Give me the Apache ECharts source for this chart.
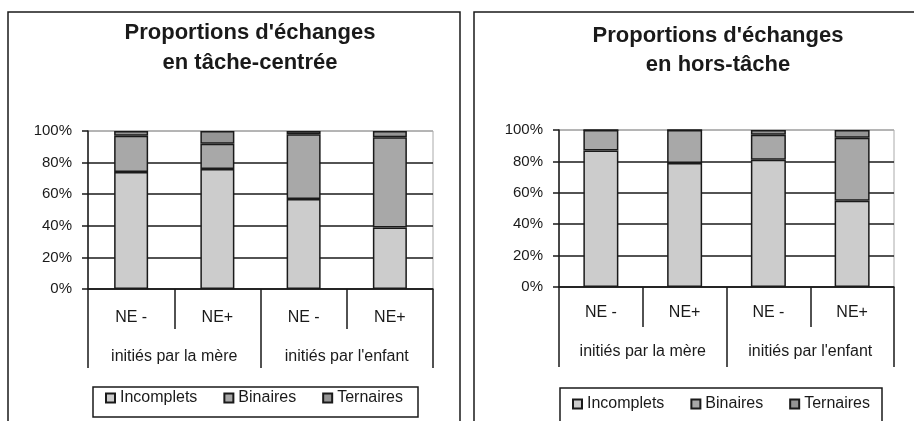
<!DOCTYPE html>
<html>
<head>
<meta charset="utf-8">
<script src="https://cdn.jsdelivr.net/npm/echarts@6/dist/echarts.min.js"></script>
<style>
  html, body { margin: 0; background: #fff; }
  #main { width: 914px; height: 421px; }
</style>
</head>
<body>
<div id="main"></div>
<script>
  const subLabels = ['NE -', 'NE+', 'NE -', 'NE+']
  const groupLabels = ['initiés par la mère', "initiés par l'enfant"]
  const seriesNames = ['Incomplets', 'Binaires', 'Ternaires']
  const titles = ["Proportions d'échanges\nen tâche-centrée", "Proportions d'échanges\nen hors-tâche"]

  // tâche-centrée (%)
  const tacheIncomplets = [74, 76, 57, 39]
  const tacheBinaires = [23, 16, 41, 57]
  const tacheTernaires = [3, 8, 2, 4]
  // hors-tâche (%)
  const horsIncomplets = [87, 79, 81, 55]
  const horsBinaires = [13, 21, 16, 40]
  const horsTernaires = [0, 0, 3, 5]

  const colors = ['#cccccc', '#a8a8a8', '#959595']
  const font = 'Liberation Sans, Arial, sans-serif'
  const ink = '#1a1a1a'

  const chart = echarts.init(document.getElementById('main'))

  function xAxes(gridIndex, labelMargin, groupMargin, shortTick, longTick) {
    return [{
      type: 'category',
      gridIndex: gridIndex,
      position: 'bottom',
      data: subLabels,
      axisLine: { lineStyle: { color: ink, width: 1.5 } },
      axisTick: { show: true, interval: 0, length: shortTick, lineStyle: { color: ink, width: 1.5 } },
      axisLabel: { interval: 0, margin: labelMargin, color: ink, fontSize: 16, fontFamily: font }
    }, {
      type: 'category',
      gridIndex: gridIndex,
      position: 'bottom',
      data: groupLabels,
      axisLine: { show: false },
      axisTick: { show: true, interval: 0, length: longTick, lineStyle: { color: ink, width: 1.5 } },
      axisLabel: { interval: 0, margin: groupMargin, color: ink, fontSize: 16, fontFamily: font }
    }]
  }

  function yAxis(gridIndex) {
    return {
      type: 'value',
      gridIndex: gridIndex,
      min: 0,
      max: 100,
      interval: 20,
      axisLine: { show: true, lineStyle: { color: ink, width: 1.5 } },
      axisTick: { show: true, length: 6, lineStyle: { color: ink, width: 1.5 } },
      axisLabel: { formatter: '{value}%', margin: 16, color: ink, fontSize: 15, fontFamily: font },
      splitLine: { lineStyle: { color: [ink, ink, ink, ink, ink, '#aaaaaa'], width: 1.5 } }
    }
  }

  function bars(stack, xIndex, yIndex, width, values) {
    return values.map(function(v, i) {
      return {
        name: seriesNames[i],
        type: 'bar',
        stack: stack,
        xAxisIndex: xIndex,
        yAxisIndex: yIndex,
        barWidth: width,
        itemStyle: { color: colors[i], borderColor: ink, borderWidth: 1.5 },
        data: v
      }
    })
  }

  function legend(left, top) {
    return {
      left: left,
      top: top,
      padding: 0,
      itemGap: 26,
      itemWidth: 9,
      itemHeight: 9,
      icon: 'rect',
      textStyle: { color: ink, fontSize: 16, fontFamily: font },
      data: seriesNames
    }
  }

  chart.setOption({
    backgroundColor: '#fff',
    animation: false,
    title: [{
      text: titles[0], left: 250, top: 18, padding: 0, textAlign: 'center',
      textStyle: { fontSize: 22, fontWeight: 'bold', lineHeight: 30, color: ink, fontFamily: font }
    }, {
      text: titles[1], left: 718, top: 21, padding: 0, textAlign: 'center',
      textStyle: { fontSize: 22, fontWeight: 'bold', lineHeight: 29, color: ink, fontFamily: font }
    }],
    legend: [legend(105, 390), legend(572, 396)],
    grid: [
      { left: 88, top: 131, width: 345, height: 158, show: true, borderColor: '#aaaaaa', borderWidth: 1 },
      { left: 559, top: 130, width: 335, height: 157, show: true, borderColor: '#aaaaaa', borderWidth: 1 }
    ],
    xAxis: xAxes(0, 21, 60, 40, 79).concat(xAxes(1, 18, 57, 40, 80)),
    yAxis: [yAxis(0), yAxis(1)],
    series: bars('tache', 0, 0, 34, [tacheIncomplets, tacheBinaires, tacheTernaires])
      .concat(bars('hors', 2, 1, 35, [horsIncomplets, horsBinaires, horsTernaires])),
    graphic: [
      { type: 'rect', shape: { x: 8, y: 12, width: 452, height: 430 }, style: { fill: 'none', stroke: ink, lineWidth: 1.5 } },
      { type: 'rect', shape: { x: 474, y: 12, width: 460, height: 430 }, style: { fill: 'none', stroke: ink, lineWidth: 1.5 } },
      { type: 'rect', shape: { x: 93, y: 387, width: 325, height: 30 }, style: { fill: 'none', stroke: ink, lineWidth: 1.5 } },
      { type: 'rect', shape: { x: 560, y: 388, width: 322, height: 40 }, style: { fill: 'none', stroke: ink, lineWidth: 1.5 } }
    ]
  })
</script>
</body>
</html>
